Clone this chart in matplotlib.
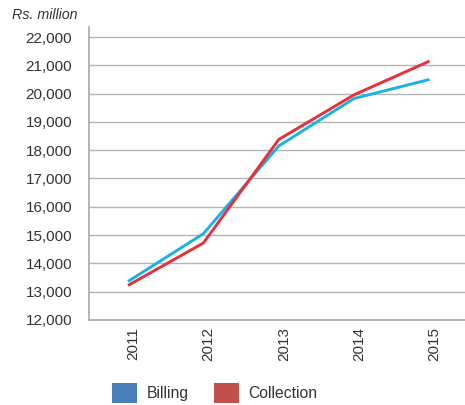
import matplotlib.pyplot as plt
import matplotlib.transforms as mtrans
from matplotlib.patches import Patch
from matplotlib.ticker import FuncFormatter

plt.rcParams['font.family'] = ['Liberation Sans', 'DejaVu Sans']

# data
years = ['2011', '2012', '2013', '2014', '2015']
billing = [13360, 15050, 18150, 19830, 20500]
collection = [13220, 14720, 18380, 19960, 21150]

fig = plt.figure(figsize=(4.65, 4.05), dpi=100)
ax = fig.add_axes([0.191, 0.21, 0.809, 0.723])

x = range(len(years))
ax.plot(x, billing, color='#1ab0e8', lw=2.1, solid_capstyle='butt')
ax.plot(x, collection, color='#e8303a', lw=2.1, solid_capstyle='butt')

ax.set_xlim(-0.52, 4.47)
ax.set_ylim(12000, 22350)
ax.set_yticks(range(12000, 22001, 1000))
ax.yaxis.set_major_formatter(FuncFormatter(lambda v, p: f'{int(v):,}'))
ax.set_xticks(list(x))
ax.set_xticklabels(years, rotation=90)
ax.tick_params(axis='both', length=0, labelsize=11, labelcolor='#333333')
ax.tick_params(axis='y', pad=12)
ax.tick_params(axis='x', pad=5)
shift = mtrans.ScaledTranslation(5 / 100, 0, fig.dpi_scale_trans)
for lbl in ax.get_xticklabels():
    lbl.set_transform(lbl.get_transform() + shift)

ax.grid(axis='y', color='#b4b4b4', lw=1)
ax.set_axisbelow(True)
for s in ['top', 'right']:
    ax.spines[s].set_visible(False)
for s in ['left', 'bottom']:
    ax.spines[s].set_color('#a8a8a8')
    ax.spines[s].set_linewidth(1.2)

fig.text(0.026, 0.962, 'Rs. million', fontsize=10.3, style='italic', color='#333333', va='center')

handles = [Patch(facecolor='#4a7ebb', edgecolor='none'),
           Patch(facecolor='#c0504d', edgecolor='none')]
fig.legend(handles, ['Billing', 'Collection'], loc='center left',
           bbox_to_anchor=(0.224, 0.03), ncol=2, frameon=False, fontsize=11.3,
           handlelength=1.6, handleheight=1.6, handletextpad=0.6,
           columnspacing=1.6, labelcolor='#333333', borderpad=0)

fig.savefig('out.png', dpi=100)
